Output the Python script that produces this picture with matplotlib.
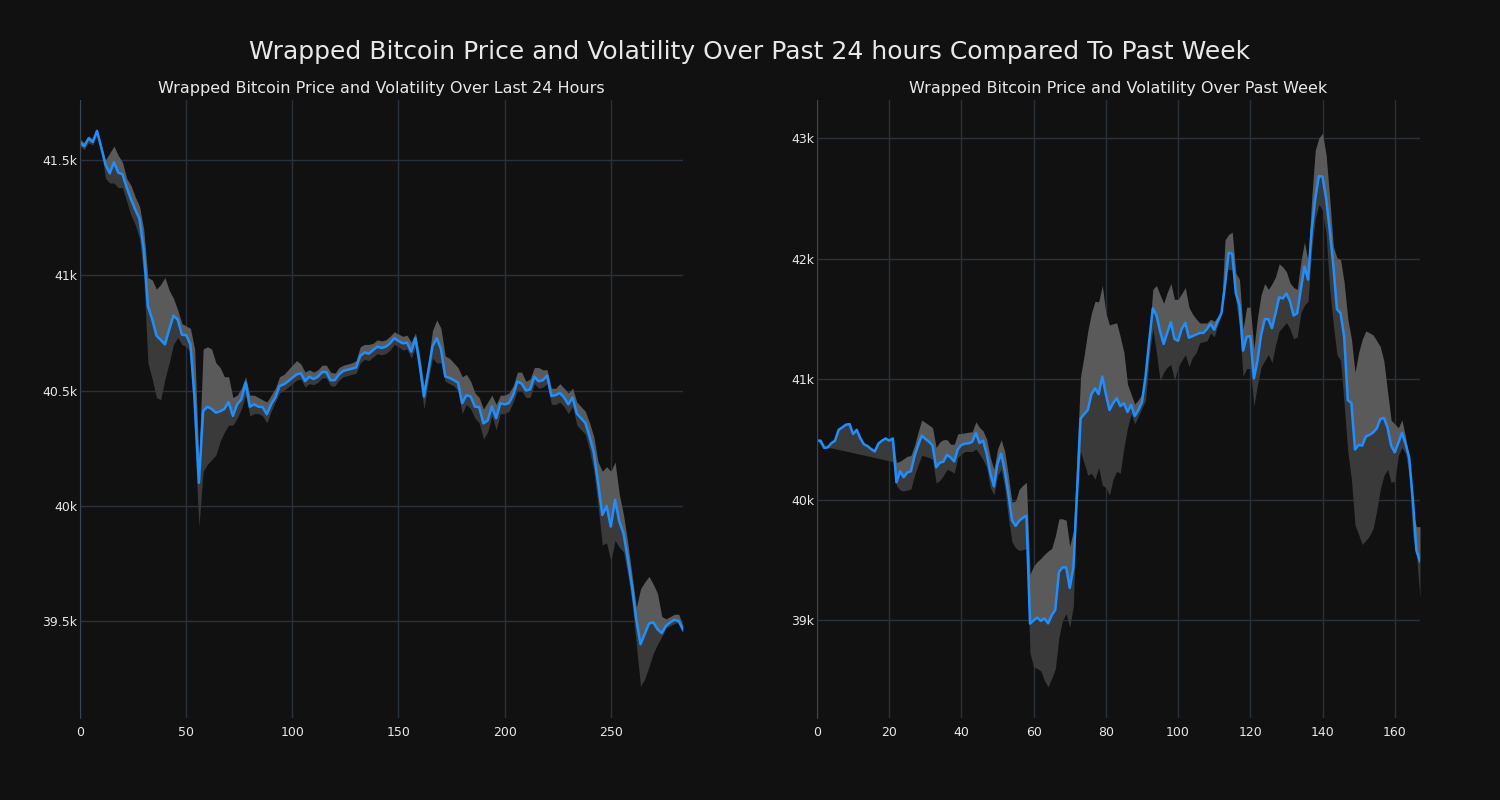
import matplotlib
matplotlib.use("Agg")
import matplotlib.pyplot as plt
from matplotlib.ticker import FuncFormatter

# ---- last 24 hours (one sample every 2 steps) ----
day_x = list(range(0, 285, 2))
day_price = [
    41575, 41560, 41593, 41578, 41626, 41554, 41480, 41442, 41490, 41445,
    41438, 41380, 41330, 41285, 41245, 41112, 40865, 40810, 40738, 40720,
    40700, 40764, 40825, 40808, 40742, 40740, 40700, 40460, 40100, 40411,
    40430, 40420, 40404, 40410, 40420, 40450, 40390, 40440, 40462, 40534,
    40430, 40440, 40430, 40428, 40397, 40440, 40470, 40520, 40527, 40540,
    40555, 40570, 40575, 40541, 40560, 40550, 40560, 40580, 40580, 40545,
    40545, 40570, 40585, 40590, 40595, 40600, 40650, 40665, 40660, 40675,
    40690, 40685, 40690, 40705, 40727, 40715, 40705, 40708, 40669, 40727,
    40611, 40474, 40582, 40691, 40727, 40680, 40561, 40555, 40545, 40535,
    40445, 40480, 40474, 40430, 40428, 40358, 40370, 40431, 40380, 40445,
    40440, 40445, 40480, 40539, 40530, 40500, 40505, 40560, 40540, 40545,
    40565, 40477, 40480, 40490, 40470, 40440, 40470, 40400, 40380, 40360,
    40300, 40230, 40100, 39960, 40000, 39910, 40026, 39932, 39880, 39770,
    39650, 39506, 39400, 39445, 39490, 39495, 39465, 39448, 39480, 39495,
    39506, 39500, 39462,
]
day_upper = [
    41590, 41575, 41605, 41590, 41635, 41565, 41500, 41530, 41560, 41520,
    41490, 41420, 41390, 41340, 41300, 41200, 40990, 40980, 40940, 40960,
    40990, 40935, 40900, 40850, 40790, 40780, 40770, 40680, 40200, 40680,
    40690, 40680, 40620, 40600, 40560, 40560, 40470, 40480, 40510, 40560,
    40480, 40480, 40470, 40460, 40450, 40480, 40510, 40560, 40570, 40590,
    40610, 40630, 40615, 40580, 40590, 40580, 40590, 40610, 40610, 40580,
    40575, 40600, 40610, 40615, 40620, 40630, 40690, 40700, 40700, 40705,
    40720, 40715, 40720, 40735, 40755, 40745, 40735, 40740, 40710, 40750,
    40650, 40520, 40620, 40760, 40806, 40770, 40650, 40640, 40620, 40600,
    40560, 40570, 40540, 40490, 40470, 40420, 40450, 40480, 40440, 40480,
    40480, 40490, 40520, 40580, 40580, 40540, 40550, 40600, 40600, 40590,
    40590, 40510, 40510, 40530, 40510, 40490, 40510, 40450, 40430, 40410,
    40360, 40300, 40190, 40150, 40170, 40150, 40190, 40050, 39960, 39840,
    39700, 39560, 39640, 39670, 39694, 39660, 39620, 39520, 39510, 39520,
    39530, 39530, 39480,
]
day_lower = [
    41560, 41545, 41575, 41565, 41610, 41540, 41420, 41400, 41400, 41380,
    41380, 41320, 41260, 41220, 41160, 41000, 40620, 40550, 40470, 40460,
    40550, 40620, 40700, 40730, 40700, 40690, 40670, 40300, 39910, 40150,
    40180, 40200, 40220, 40280, 40320, 40350, 40350, 40380, 40420, 40480,
    40390, 40400, 40400, 40390, 40360, 40410, 40450, 40490, 40500, 40515,
    40530, 40545, 40550, 40515, 40530, 40525, 40535, 40555, 40555, 40520,
    40520, 40545, 40560, 40565, 40570, 40575, 40620, 40635, 40630, 40645,
    40660, 40655, 40660, 40675, 40700, 40690, 40675, 40680, 40640, 40690,
    40560, 40420, 40540, 40640, 40620, 40620, 40540, 40530, 40520, 40500,
    40400, 40440, 40420, 40380, 40360, 40290, 40320, 40390, 40330, 40400,
    40400, 40410, 40450, 40500, 40500, 40470, 40470, 40530, 40510, 40515,
    40530, 40440, 40440, 40450, 40430, 40400, 40430, 40350, 40330, 40310,
    40240, 40150, 40000, 39830, 39840, 39760, 39850, 39820, 39800, 39700,
    39580, 39400, 39217, 39250, 39303, 39360, 39400, 39433, 39470, 39480,
    39490, 39495, 39450,
]

# ---- past week (hourly) ----
week_x = list(range(168))
week_price = [
    40490, 40490, 40430, 40435, 40470, 40490, 40580, 40600, 40622, 40628,
    40545, 40580, 40510, 40460, 40445, 40420, 40400, 40465, 40490, 40508,
    40490, 40508, 40144, 40236, 40187, 40225, 40236, 40360, 40450, 40531,
    40505, 40482, 40449, 40269, 40308, 40315, 40373, 40350, 40318, 40420,
    40455, 40465, 40468, 40480, 40554, 40470, 40490, 40380, 40220, 40111,
    40300, 40383, 40240, 40050, 39830, 39783, 39826, 39850, 39868, 38973,
    39000, 39023, 38995, 39016, 38975, 39040, 39088, 39400, 39439, 39439,
    39269, 39439, 40039, 40672, 40711, 40744, 40875, 40924, 40875, 41022,
    40875, 40744, 40800, 40842, 40777, 40800, 40728, 40787, 40695, 40744,
    40810, 41023, 41318, 41587, 41531, 41400, 41292, 41384, 41472, 41334,
    41318, 41416, 41466, 41344, 41357, 41370, 41383, 41383, 41416, 41459,
    41410, 41482, 41547, 41777, 42049, 42039, 41711, 41613, 41236, 41351,
    41357, 41006, 41154, 41367, 41498, 41498, 41423, 41547, 41679, 41669,
    41711, 41646, 41528, 41547, 41744, 41934, 41826, 42236, 42498, 42685,
    42679, 42498, 42236, 41941, 41580, 41547, 41351, 40826, 40803, 40416,
    40455, 40449, 40524, 40538, 40557, 40590, 40669, 40679, 40600, 40450,
    40393, 40472, 40554, 40465, 40350, 40006, 39580, 39488,
]
week_upper = [
    40490, 40490, 40430, 40435, 40470, 40490, 40580, 40600, 40622, 40628,
    40545, 40580, 40510, 40460, 40445, 40420, 40400, 40465, 40490, 40508,
    40490, 40508, 40310, 40320, 40340, 40360, 40367, 40450, 40560, 40662,
    40640, 40620, 40597, 40433, 40480, 40498, 40498, 40460, 40460, 40547,
    40550, 40555, 40560, 40564, 40646, 40600, 40570, 40500, 40350, 40252,
    40420, 40498, 40400, 40200, 39980, 39990, 40088, 40120, 40144, 39383,
    39450, 39488, 39514, 39547, 39575, 39596, 39700, 39842, 39842, 39830,
    39613, 39744, 40367, 41023, 41200, 41400, 41547, 41646, 41640, 41777,
    41550, 41449, 41460, 41466, 41350, 41220, 40957, 40875, 40793, 40830,
    40875, 41050, 41350, 41744, 41777, 41700, 41629, 41720, 41793, 41662,
    41662, 41710, 41760, 41597, 41540, 41500, 41466, 41466, 41466, 41498,
    41480, 41520, 41564, 42154, 42200, 42219, 41880, 41826, 41416, 41597,
    41597, 41252, 41515, 41700, 41793, 41744, 41790, 41850, 41957, 41930,
    41892, 41800, 41760, 41744, 41974, 42138, 41974, 42498, 42900, 43000,
    43039, 42859, 42500, 42100, 42006, 41990, 41800, 41500, 41334, 41056,
    41220, 41330, 41400, 41385, 41367, 41320, 41269, 41150, 40900, 40660,
    40629, 40597, 40662, 40520, 40350, 39900, 39777, 39777,
]
week_lower = [
    40490, 40456, 40425, 40430, 40430, 40423, 40416, 40410, 40403, 40397,
    40390, 40383, 40377, 40370, 40363, 40357, 40350, 40343, 40337, 40330,
    40323, 40317, 40120, 40080, 40072, 40080, 40088, 40203, 40290, 40367,
    40360, 40350, 40334, 40138, 40160, 40200, 40252, 40240, 40220, 40351,
    40380, 40400, 40400, 40400, 40420, 40380, 40330, 40269, 40100, 40039,
    40200, 40252, 40100, 39850, 39650, 39600, 39580, 39585, 39596, 38728,
    38613, 38600, 38580, 38498, 38449, 38520, 38597, 38859, 39000, 39055,
    38941, 39121, 40039, 40400, 40301, 40203, 40220, 40170, 40269, 40121,
    40100, 40039, 40170, 40236, 40220, 40433, 40597, 40711, 40629, 40695,
    40760, 40826, 41187, 41416, 41220, 40990, 41056, 41100, 41121, 40990,
    41100, 41154, 41203, 41105, 41180, 41220, 41302, 41310, 41318, 41383,
    41351, 41450, 41531, 41908, 41908, 41908, 41646, 41433, 41023, 41088,
    41088, 40777, 40957, 41100, 41154, 41203, 41138, 41285, 41400, 41433,
    41470, 41416, 41334, 41351, 41550, 41613, 41646, 42072, 42334, 42449,
    42400, 42203, 41744, 41450, 41203, 41154, 40793, 40400, 40170, 39793,
    39711, 39629, 39662, 39700, 39760, 39908, 40088, 40200, 40252, 40144,
    40154, 40367, 40433, 40383, 40203, 39700, 39547, 39187,
]

BG = '#111111'
GRID = '#29313b'
TXT = '#e8e8e8'

fig = plt.figure(figsize=(15, 8), dpi=100, facecolor=BG)
fig.suptitle('Wrapped Bitcoin Price and Volatility Over Past 24 hours Compared To Past Week',
             color=TXT, fontsize=18, y=0.95)

k_fmt = FuncFormatter(lambda v, p: f'{v / 1000:g}k')


def draw(ax, x, price, upper, lower, title, xlim, ylim, xticks):
    ax.set_facecolor(BG)
    # lighter gray above the price, darker below
    ax.fill_between(x, price, upper, color='#5a5a5a', lw=0)
    ax.fill_between(x, lower, price, color='#3a3a3a', lw=0)
    ax.plot(x, price, color='#1f8fff', lw=1.8)
    ax.set_xlim(*xlim)
    ax.set_ylim(*ylim)
    ax.set_xticks(xticks)
    ax.yaxis.set_major_formatter(k_fmt)
    ax.grid(True, color=GRID, lw=1)
    ax.set_axisbelow(True)
    for s in ['top', 'right', 'bottom']:
        ax.spines[s].set_visible(False)
    ax.spines['left'].set_color('#3a4553')
    ax.tick_params(colors=TXT, labelsize=9, length=0)
    ax.tick_params(axis='x', pad=6)
    ax.tick_params(axis='y', pad=2)
    ax.set_title(title, color=TXT, fontsize=11.5, pad=5)


ax1 = fig.add_axes([80 / 1500, 82 / 800, 603 / 1500, 618 / 800])
draw(ax1, day_x, day_price, day_upper, day_lower,
     'Wrapped Bitcoin Price and Volatility Over Last 24 Hours',
     (0, 284), (39080, 41760), [0, 50, 100, 150, 200, 250])
ax1.set_yticks([39500, 40000, 40500, 41000, 41500])

ax2 = fig.add_axes([817 / 1500, 82 / 800, 603 / 1500, 618 / 800])
draw(ax2, week_x, week_price, week_upper, week_lower,
     'Wrapped Bitcoin Price and Volatility Over Past Week',
     (0, 167), (38190, 43315), [0, 20, 40, 60, 80, 100, 120, 140, 160])
ax2.set_yticks([39000, 40000, 41000, 42000, 43000])

fig.savefig('out.png', dpi=100, facecolor=BG)
